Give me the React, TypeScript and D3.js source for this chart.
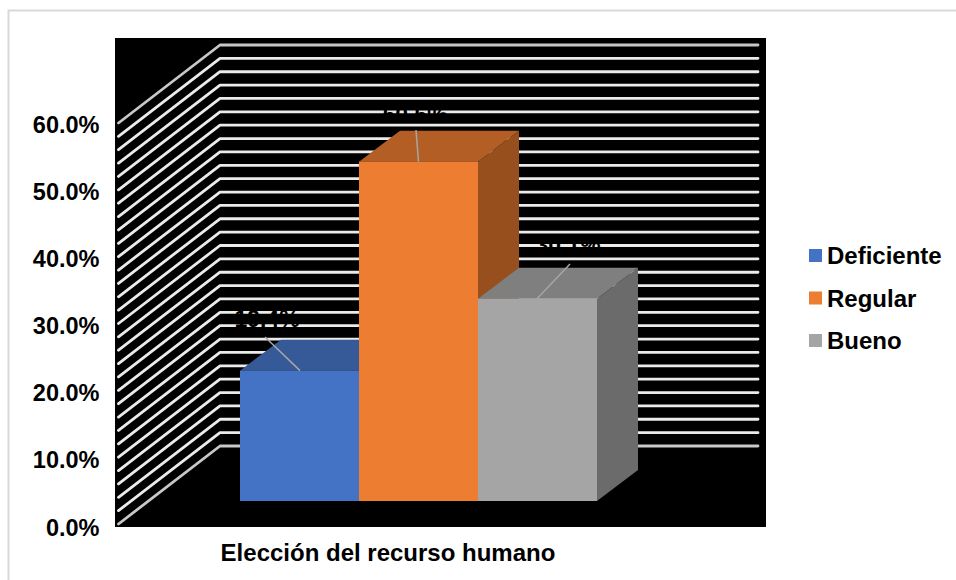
import React from "react";
import * as d3 from "d3";

// Chart values
const seriesNames = ["Deficiente", "Regular", "Bueno"];
const seriesValues = [19.4, 50.5, 30.1];
const valueLabels = ["19.4%", "50.5%", "30.1%"];
const axisTicks = [0, 10, 20, 30, 40, 50, 60];
const gridValues = d3.range(0, 61, 2);
const categoryTitle = "Elección del recurso humano";

// Face colours per series
const frontColors = ["#4472c4", "#ed7d31", "#a5a5a5"];
const topColors = ["#355a97", "#b25e24", "#7f7f7f"];
const sideColors = ["#2f5089", "#974f1d", "#6b6b6b"];

const FONT = "'Liberation Sans', Arial, sans-serif";

// Oblique projection used for the walls and for the bars
const wall = { left: 220, right: 758, dx: -102, dy: 78 };
const barDepth = { dx: 41, dy: -31 };

const yWall = d3.scaleLinear().domain([0, 60]).range([446, 45]);
const yBar = d3.scaleLinear().domain([0, 60]).range([501, 97.8]);
const yTickText = d3.scaleLinear().domain([0, 60]).range([535.5, 132.5]);
const xBar = d3.scaleBand().domain(seriesNames).range([240, 597]);

// Callouts: where each value label sits and where its leader line starts
const labelPlacement = [
  { x: 267, y: 327, lx: 265, ly: 337, tx: 300 },
  { x: 415, y: 123, lx: 416, ly: 130, tx: 418.5 },
  { x: 568, y: 253, lx: 570, ly: 264, tx: 537 },
];

const poly = (pts: [number, number][]) => pts.map((p) => p.join(",")).join(" ");

export default function App() {
  const wallPath = d3.line();
  return (
    <svg
      width={956}
      height={580}
      style={{ position: "absolute", left: 0, top: 0, background: "#fff" }}
      fontFamily={FONT}
      fontWeight={700}
    >
      <path d="M8.5 580V10.5H956" fill="none" stroke="#d9d9d9" strokeWidth={2} />
      <rect x={115} y={38} width={651} height={489} fill="#000" />

      {/* Gridlines running across the side wall and the back wall */}
      {gridValues.map((v, i) => {
        const y = yWall(v);
        return (
          <path
            key={v}
            d={
              wallPath([
                [wall.left + wall.dx + 0.5, y + wall.dy],
                [wall.left, y],
                [wall.right, y],
              ]) as string
            }
            fill="none"
            stroke={i === 0 || i === 30 ? "#c8c8c8" : "#ebebeb"}
            strokeWidth={2.8}
            strokeLinecap="round"
            strokeLinejoin="round"
          />
        );
      })}

      {/* Bars: front, top and side faces */}
      {seriesNames.map((name, i) => {
        const x0 = xBar(name) as number;
        const x1 = x0 + xBar.bandwidth();
        const yTop = yBar(seriesValues[i]);
        const yBase = yBar(0);
        const { dx, dy } = barDepth;
        return (
          <g key={name}>
            <polygon
              points={poly([
                [x1, yTop],
                [x1 + dx, yTop + dy],
                [x1 + dx, yBase + dy],
                [x1, yBase],
              ])}
              fill={sideColors[i]}
            />
            <polygon
              points={poly([
                [x0, yTop],
                [x0 + dx, yTop + dy],
                [x1 + dx, yTop + dy],
                [x1, yTop],
              ])}
              fill={topColors[i]}
            />
            <rect x={x0} y={yTop} width={x1 - x0} height={yBase - yTop} fill={frontColors[i]} />
          </g>
        );
      })}

      {/* Value labels with their leader lines */}
      {seriesNames.map((name, i) => {
        const p = labelPlacement[i];
        return (
          <g key={name}>
            <line
              x1={p.lx}
              y1={p.ly}
              x2={p.tx}
              y2={yBar(seriesValues[i])}
              stroke="#a6a6a6"
              strokeWidth={1.5}
            />
            <text x={p.x} y={p.y} fontSize={23} textAnchor="middle" fill="#000">
              {valueLabels[i]}
            </text>
          </g>
        );
      })}

      {/* Value axis */}
      {axisTicks.map((t) => (
        <text key={t} x={99.5} y={yTickText(t)} fontSize={23.5} textAnchor="end" fill="#000">
          {t.toFixed(1)}%
        </text>
      ))}

      <text x={388} y={561} fontSize={24} textAnchor="middle" fill="#000">
        {categoryTitle}
      </text>

      {/* Legend */}
      {seriesNames.map((name, i) => (
        <g key={name} transform={`translate(809,${256 + i * 42.5})`}>
          <rect x={0} y={-7} width={13} height={13} fill={frontColors[i]} />
          <text x={18} y={8} fontSize={24} fill="#000">
            {name}
          </text>
        </g>
      ))}
    </svg>
  );
}
